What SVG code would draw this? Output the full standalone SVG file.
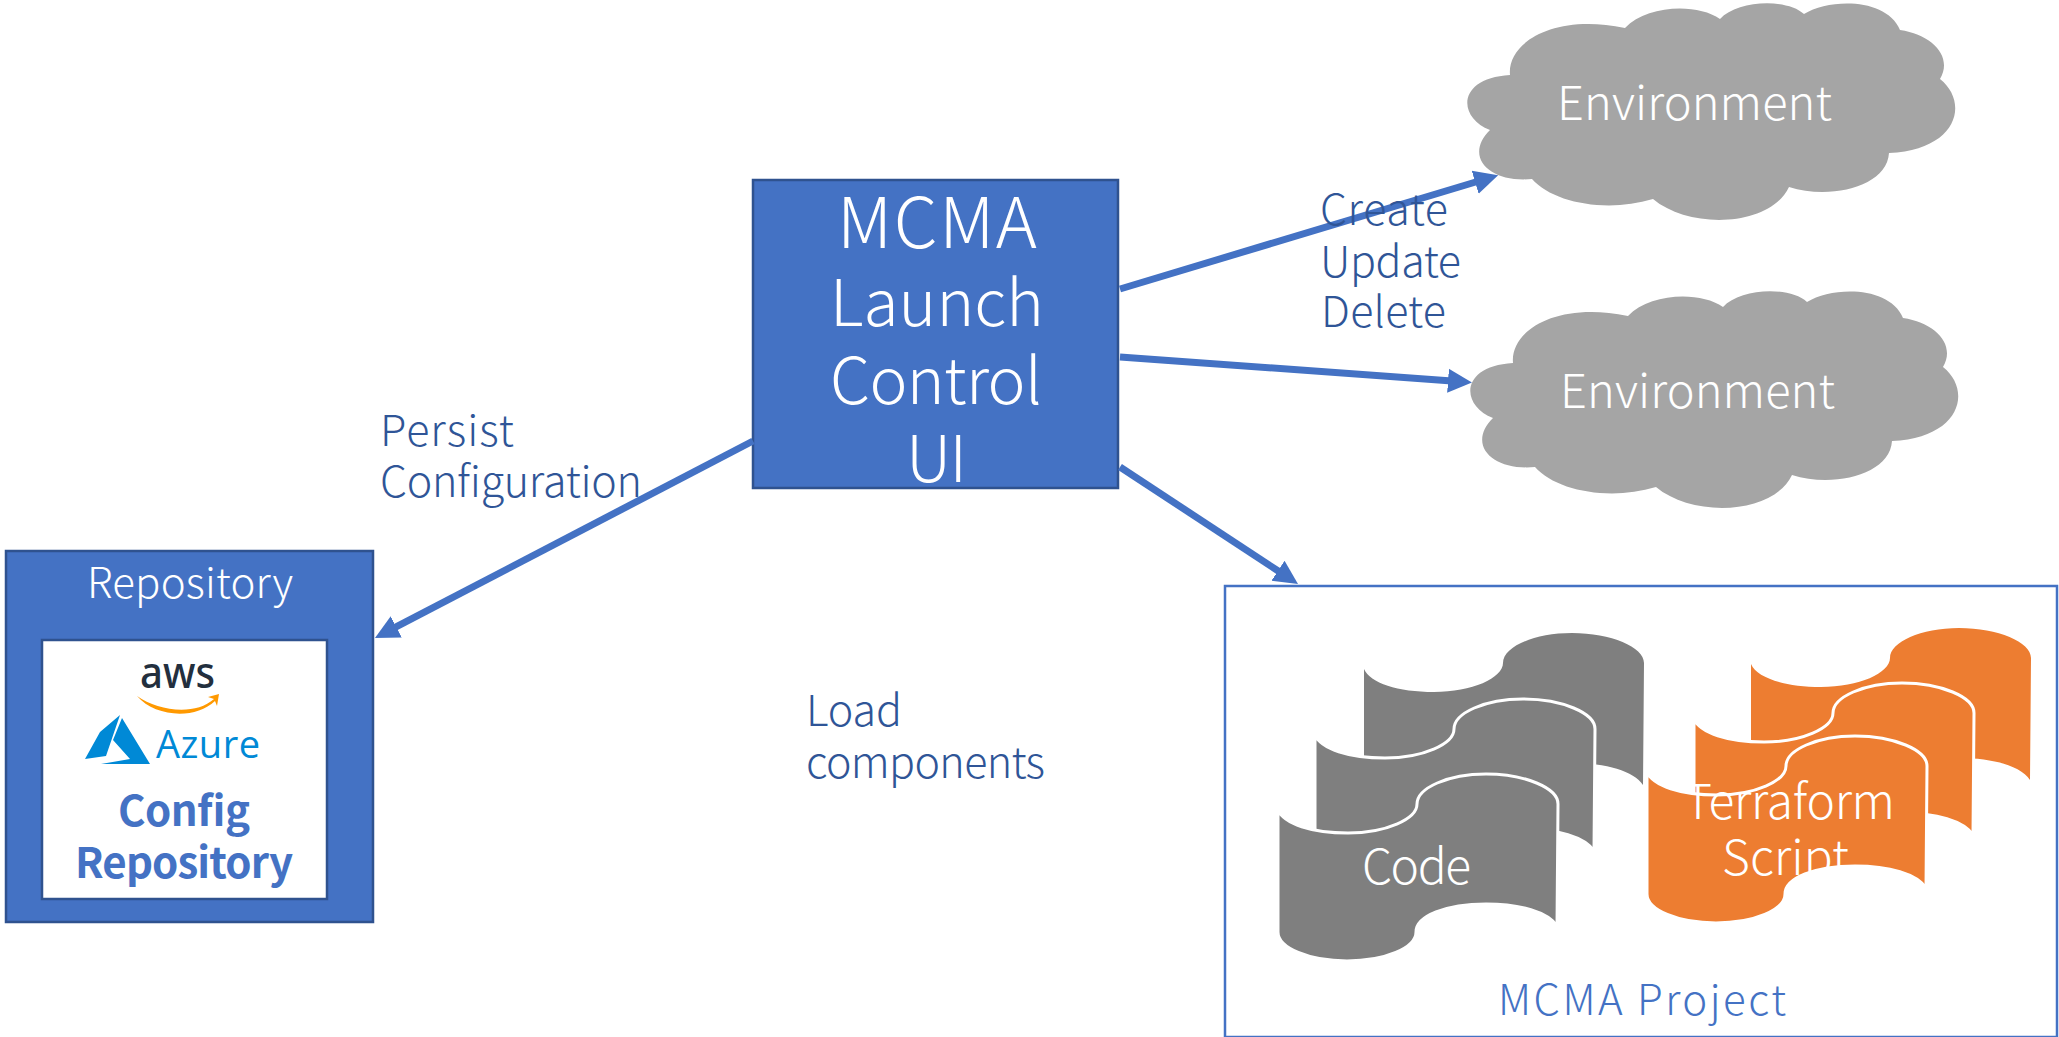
<svg xmlns="http://www.w3.org/2000/svg" width="2059" height="1037" viewBox="0 0 2059 1037">
<style>
text{font-family:"Noto Sans CJK JP","Noto Sans",sans-serif;font-weight:300}
.w{fill:#fff}.l{fill:#2f5597;font-size:43px}
.box{fill:#4472c4;stroke:#2f528f;stroke-width:2.5}
.conn{stroke:#4472c4;stroke-width:7;fill:none;marker-end:url(#ah)}
.cloud{fill:#a5a5a5}
.g{fill:#7f7f7f;stroke:#fff;stroke-width:3}
.o{fill:#ed7d31;stroke:#fff;stroke-width:3}
.nb{stroke:none}
</style>
<defs>
<marker id="ah" markerUnits="userSpaceOnUse" markerWidth="26" markerHeight="28" refX="4" refY="14" orient="auto"><path d="M0,2 L24,14 L0,26 Z" fill="#4472c4"/></marker>
<path id="cl" d="M70,75 C67,43 113,13 185,28 C207,5 257,3 280,19 C297,0 347,-2 364,14 C390,-2 447,-2 460,30 C493,35 513,57 500,79 C530,103 517,150 449,153 C447,187 390,200 349,187 C330,227 250,230 213,199 C167,213 113,203 92,179 C50,183 23,157 50,130 C17,117 17,78 70,75 Z"/>
<path id="tp" d="M0,-2 C6,12 34,21 70,21 C108,21 139,7 139,-8 C139,-24 170,-38 208,-38 C247,-38 280,-24 280,-8 L279,114 C270,100 242,92 208,92 C168,92 138,104 138,120 C138,136 107,149 69,149 C31,149 0,136 0,120 Z"/>
</defs>
<rect width="2059" height="1037" fill="#fff"/>
<g id="env1"><use href="#cl" class="cloud" x="1440" y="0"/><text class="w" x="1557" y="120" font-size="47" textLength="275">Environment</text></g>
<g id="env2"><use href="#cl" class="cloud" x="1443" y="288"/><text class="w" x="1560" y="408" font-size="47" textLength="275">Environment</text></g>
<g id="main"><rect class="box" x="753" y="180" width="365" height="308"/>
<text class="w" font-size="70" x="837" y="248" textLength="200">MCMA</text>
<text class="w" font-size="64" x="830" y="326" textLength="214">Launch</text>
<text class="w" font-size="64" x="830" y="404" textLength="212">Control</text>
<text class="w" font-size="64" x="906" y="482" textLength="61">UI</text></g>
<g id="repository"><rect class="box" x="6" y="551" width="367" height="371"/>
<text class="w" x="87" y="598" font-size="42" textLength="206">Repository</text>
<rect x="42" y="640" width="285" height="259" fill="#fff" stroke="#2f528f" stroke-width="2.5"/>
<g id="aws"><text x="140" y="688" font-size="44" textLength="75" lengthAdjust="spacingAndGlyphs" style="font-family:'Noto Sans',sans-serif;font-weight:500" fill="#232f3e">aws</text>
<path d="M137,696 C158,711 195,716 214,699 L208,697 L219,694 L217,706 L215,701 C195,720 155,717 137,696 Z" fill="#f90"/></g>
<g id="azure"><path d="M120,715 L100,732 L85,759 L106,756 Z M122,718 L150,764 L101,764 L130,759 L113,740 Z" fill="#0089d6"/>
<text x="156" y="758" font-size="38" textLength="104" style="font-family:'Open Sans',sans-serif;font-weight:400" fill="#0089d6">Azure</text></g>
<text x="184" y="826" font-size="42" text-anchor="middle" style="font-weight:700" textLength="132" fill="#4472c4">Config</text>
<text x="184" y="878" font-size="42" text-anchor="middle" style="font-weight:700" textLength="218" fill="#4472c4">Repository</text></g>
<g id="project"><rect x="1225" y="586" width="832" height="451" fill="#fff" stroke="#4472c4" stroke-width="2.5"/>
<text x="1498" y="1015" font-size="42" fill="#4472c4" textLength="288">MCMA Project</text></g>
<g id="code"><use href="#tp" class="g nb" x="1364" y="671"/><use href="#tp" class="g" x="1315" y="737"/><use href="#tp" class="g" x="1278" y="812"/>
<text class="w" x="1362" y="884" font-size="48" textLength="109">Code</text></g>
<g id="terraform"><use href="#tp" class="o nb" x="1751" y="666"/><use href="#tp" class="o" x="1694" y="721"/><use href="#tp" class="o" x="1647" y="774"/>
<text class="w" x="1684" y="819" font-size="48" textLength="211">Terraform</text>
<text class="w" x="1722" y="875" font-size="48" textLength="127">Script</text></g>
<g id="connectors">
<path class="conn" d="M1120,289 L1479,181"/>
<path class="conn" d="M1120,357 L1452,381"/>
<path class="conn" d="M1120,467 L1281.3,573"/>
<path class="conn" d="M753,441 L392.7,628.7"/>
</g>
<g id="labels">
<text class="l" x="380" y="446" textLength="134">Persist</text>
<text class="l" x="380" y="497" textLength="262">Configuration</text>
<text class="l" x="1320" y="225" textLength="128">Create</text>
<text class="l" x="1320" y="277" textLength="141">Update</text>
<text class="l" x="1321" y="327" textLength="125">Delete</text>
<text class="l" x="806" y="726" textLength="96">Load</text>
<text class="l" x="806" y="778" textLength="239">components</text>
</g>
</svg>
